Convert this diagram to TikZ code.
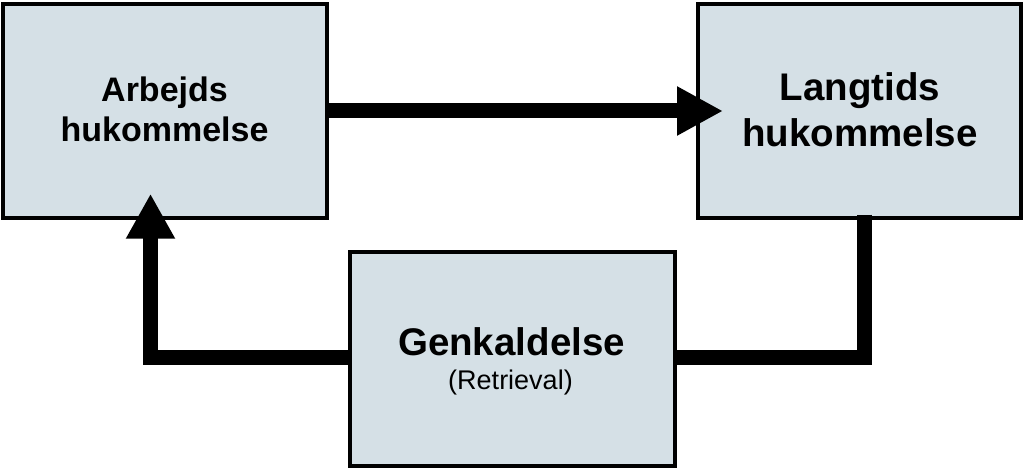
\documentclass[tikz,border=0pt]{standalone}
\usepackage{fontspec}
\setmainfont{Liberation Sans}
\usetikzlibrary{arrows.meta}
\definecolor{boxfill}{HTML}{D5E0E6}
\tikzset{
  membox/.style={draw=black, fill=boxfill, line width=4pt, inner sep=0pt, rectangle},
  conn/.style={draw=black, line width=15pt, line join=miter, line cap=butt},
  bigtip/.style={-{Triangle[length=46pt,width=46pt]}},
  lbl/.style={inner sep=0pt, anchor=base, text=black},
}
\begin{document}
\begin{tikzpicture}[x=1pt,y=-1pt]
\useasboundingbox (0,0) rectangle (1024,470);
% boxes
\node[membox, minimum width=324pt, minimum height=214pt] (L) at (164.5,111) {};
\node[membox, minimum width=323pt, minimum height=214pt] (R) at (859.5,111) {};
\node[membox, minimum width=325pt, minimum height=214pt] (M) at (512.5,359) {};
% labels
\node[lbl, font=\fontsize{34}{40}\selectfont\bfseries] (l1) at (164.5,101.7) {Arbejds};
\node[lbl, font=\fontsize{34}{40}\selectfont\bfseries] (l2) at (164.5,141.7) {hukommelse};
\node[lbl, font=\fontsize{38.5}{46}\selectfont\bfseries] (r1) at (860,100.7) {Langtids};
\node[lbl, font=\fontsize{38.5}{46}\selectfont\bfseries] (r2) at (860,146.7) {hukommelse};
\node[lbl, font=\fontsize{38.5}{46}\selectfont\bfseries] (m1) at (511.5,355) {Genkaldelse};
\node[lbl, font=\fontsize{27}{32}\selectfont] (m2) at (510.5,389) {(Retrieval)};
% connectors
\coordinate (topTip) at ([xshift=27pt]R.west);
\coordinate (rStart) at ([xshift=5pt,yshift=5.3pt]R.south);
\coordinate (lTip) at ([xshift=-14pt,yshift=26.3pt]L.south);
\draw[conn, bigtip] (L.east) -- (topTip);
\draw[conn] (rStart) |- ([yshift=1.5pt]M.east);
\draw[conn, -{Triangle[length=45pt,width=46pt]}] ([yshift=1.5pt]M.west) -| (lTip);
\end{tikzpicture}
\end{document}
